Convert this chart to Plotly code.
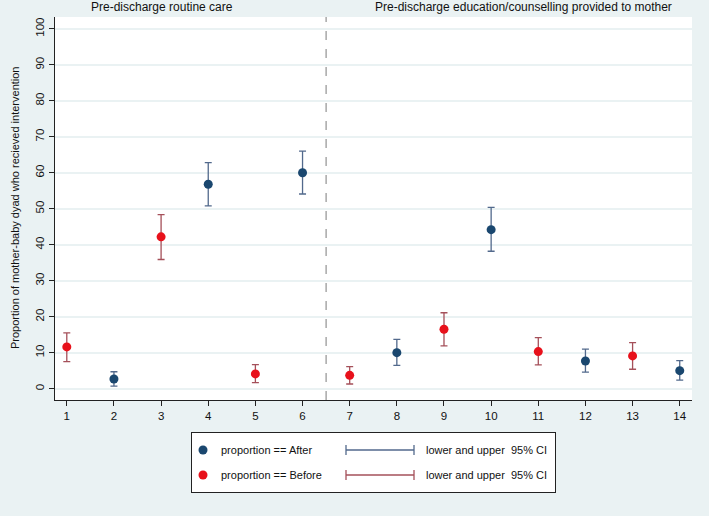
import plotly.graph_objects as go

# ---- data ----
after_x = [2, 4, 6, 8, 10, 12, 14]
after_y = [2.7, 56.8, 60.0, 10.0, 44.2, 7.7, 5.0]
after_lo = [0.7, 50.8, 54.1, 6.5, 38.2, 4.6, 2.4]
after_hi = [4.7, 62.8, 66.0, 13.7, 50.4, 11.0, 7.8]

before_x = [1, 3, 5, 7, 9, 11, 13]
before_y = [11.6, 42.2, 4.1, 3.7, 16.5, 10.3, 9.1]
before_lo = [7.5, 35.9, 1.7, 1.3, 11.9, 6.6, 5.4]
before_hi = [15.5, 48.4, 6.7, 6.1, 21.1, 14.2, 12.8]

x_ticks = list(range(1, 15))
y_ticks = list(range(0, 101, 10))
panel_titles = ["Pre-discharge routine care",
                "Pre-discharge education/counselling provided to mother"]
legend_labels = ["proportion == After", "proportion == Before"]
ci_label = "lower and upper  95% CI"
y_title = "Proportion of mother-baby dyad who recieved intervention"

# ---- style ----
W, H = 709, 516
BG = "#eaf2f3"
BLUE = "#1a476f"
BLUE_CI = "#52698c"
RED = "#e8111b"
RED_CI = "#a5505a"
FONT = "Liberation Sans, Arial, sans-serif"

def px_x(p):
    return p / W

def px_y(p):
    return 1 - p / H

fig = go.Figure()

def add_series(xs, ys, lo, hi, mcol, ccol):
    fig.add_trace(go.Scatter(
        x=xs, y=ys, mode="markers",
        marker=dict(color=mcol, size=9),
        error_y=dict(type="data", symmetric=False,
                     array=[h - v for h, v in zip(hi, ys)],
                     arrayminus=[v - l for v, l in zip(ys, lo)],
                     color=ccol, thickness=1.3, width=3.5),
        showlegend=False, hoverinfo="skip",
        xaxis="x", yaxis="y"))

add_series(before_x, before_y, before_lo, before_hi, RED, RED_CI)
add_series(after_x, after_y, after_lo, after_hi, BLUE, BLUE_CI)

# ---- legend drawn in its own small subplot (pixel-like coords) ----
LX0, LX1, LY0, LY1 = 192, 555, 433, 492
rows = [(17, BLUE, BLUE_CI, legend_labels[0]), (42, RED, RED_CI, legend_labels[1])]
for ry, mcol, ccol, lab in rows:
    fig.add_trace(go.Scatter(x=[11], y=[ry], mode="markers",
                             marker=dict(color=mcol, size=9),
                             xaxis="x2", yaxis="y2", showlegend=False, hoverinfo="skip"))
    fig.add_trace(go.Scatter(x=[154, 222], y=[ry, ry], mode="lines+markers",
                             line=dict(color=ccol, width=1.3),
                             marker=dict(symbol="line-ns", size=7,
                                         line=dict(color=ccol, width=1.3)),
                             xaxis="x2", yaxis="y2", showlegend=False, hoverinfo="skip"))
    fig.add_annotation(x=27, y=ry, xref="x2", yref="y2", text=lab, showarrow=False,
                       xanchor="left", yanchor="middle",
                       font=dict(family=FONT, size=11, color="#111111"))
    fig.add_annotation(x=232, y=ry, xref="x2", yref="y2", text=ci_label, showarrow=False,
                       xanchor="left", yanchor="middle",
                       font=dict(family=FONT, size=11, color="#111111"))

# dashed separator
fig.add_vline(x=6.5, line=dict(color="#9a9a9a", width=1.3, dash="dash"))

# panel titles
fig.add_annotation(x=px_x(162), y=px_y(7), xref="paper", yref="paper", text=panel_titles[0],
                   showarrow=False, xanchor="center", yanchor="middle",
                   font=dict(family=FONT, size=12, color="#111111"))
fig.add_annotation(x=px_x(523), y=px_y(7), xref="paper", yref="paper", text=panel_titles[1],
                   showarrow=False, xanchor="center", yanchor="middle",
                   font=dict(family=FONT, size=12, color="#111111"))
# y axis title
fig.add_annotation(x=px_x(15), y=px_y(208), xref="paper", yref="paper", text=y_title,
                   showarrow=False, textangle=-90, xanchor="center", yanchor="middle",
                   font=dict(family=FONT, size=11, color="#111111"))

fig.update_layout(
    width=W, height=H,
    margin=dict(l=0, r=0, t=0, b=0),
    paper_bgcolor=BG, plot_bgcolor="white",
    font=dict(family=FONT, size=11, color="#111111"),
    xaxis=dict(domain=[px_x(55), px_x(692)], range=[0.75, 14.26],
               tickvals=x_ticks, ticks="outside", ticklen=5, tickwidth=1.3,
               tickcolor="#222", showline=True, linecolor="#222", linewidth=1.3,
               showgrid=False, zeroline=False, anchor="y",
               tickfont=dict(family=FONT, size=11.5, color="#111")),
    yaxis=dict(domain=[px_y(400), px_y(17)], range=[-3.15, 103.3],
               tickvals=y_ticks, ticks="outside", ticklen=5, tickwidth=1.3,
               tickcolor="#222", showline=True, linecolor="#222", linewidth=1.3,
               showgrid=True, gridcolor=BG, gridwidth=1.5, zeroline=False,
               tickangle=-90, anchor="x",
               tickfont=dict(family=FONT, size=11.5, color="#111")),
    xaxis2=dict(domain=[px_x(LX0), px_x(LX1)], range=[0, LX1 - LX0],
                showgrid=False, zeroline=False, showticklabels=False, ticks="",
                showline=True, mirror=True, linecolor="#222", linewidth=1.2,
                anchor="y2", fixedrange=True),
    yaxis2=dict(domain=[px_y(LY1), px_y(LY0)], range=[LY1 - LY0, 0],
                showgrid=False, zeroline=False, showticklabels=False, ticks="",
                showline=True, mirror=True, linecolor="#222", linewidth=1.2,
                anchor="x2", fixedrange=True),
)

fig.write_html("out.html",
               config={"displayModeBar": False},
               post_script="document.body.style.margin='0';document.body.style.padding='0';")
